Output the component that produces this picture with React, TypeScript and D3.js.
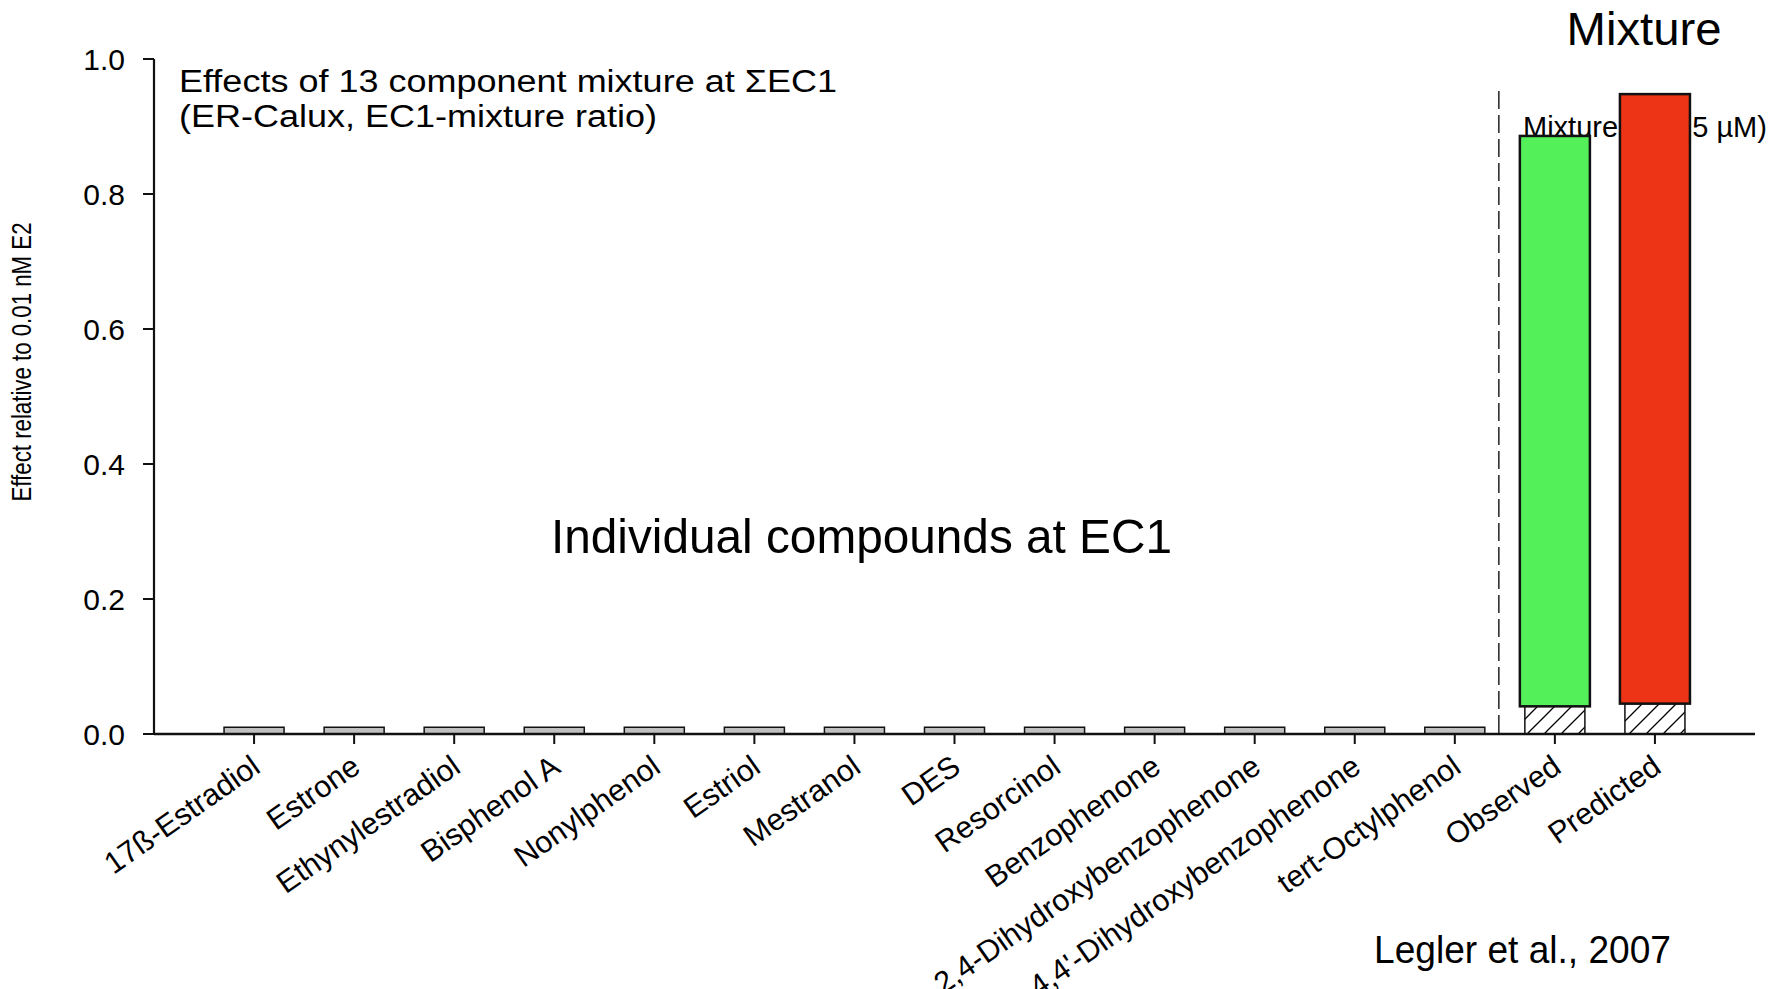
import React from "react";
import { scaleLinear, scalePoint, format } from "d3";

// values
const compounds = [
  "17ß-Estradiol",
  "Estrone",
  "Ethynylestradiol",
  "Bisphenol A",
  "Nonylphenol",
  "Estriol",
  "Mestranol",
  "DES",
  "Resorcinol",
  "Benzophenone",
  "2,4-Dihydroxybenzophenone",
  "4,4'-Dihydroxybenzophenone",
  "tert-Octylphenol",
];
const compoundEffects = [0.01, 0.01, 0.01, 0.01, 0.01, 0.01, 0.01, 0.01, 0.01, 0.01, 0.01, 0.01, 0.01];

const mixtureLabels = ["Observed", "Predicted"];
const mixtureEffects = [0.886, 0.948];
const mixtureHatched = [0.041, 0.045];
const mixtureColors = ["#54f05a", "#ee3416"];

const yTicks = [0, 0.2, 0.4, 0.6, 0.8, 1.0];

const W = 1785;
const H = 989;
const left = 154;
const right = 1755;
const top = 59;
const base = 734;
const font = "'Liberation Sans', Arial, Helvetica, sans-serif";

const y = scaleLinear().domain([0, 1]).range([base, top]);
const x = scalePoint<string>()
  .domain([...compounds, ...mixtureLabels])
  .range([left, right])
  .padding(1);
const step = x.step();
const fmt = format(".1f");

export default function App() {
  const dashX = (x(compounds[compounds.length - 1])! + x(mixtureLabels[0])!) / 2 - 6;
  return (
    <svg
      width={W}
      height={H}
      style={{ position: "absolute", left: 0, top: 0, background: "#fff" }}
      fontFamily={font}
    >
      <defs>
        <pattern id="hatch" patternUnits="userSpaceOnUse" width={17} height={17}>
          <path d="M-4,4 L4,-4 M0,17 L17,0 M13,21 L21,13" stroke="#000" strokeWidth={1.3} />
        </pattern>
      </defs>

      {/* annotations */}
      <text x={179} y={92} fontSize={31} textLength={658} lengthAdjust="spacingAndGlyphs">
        Effects of 13 component mixture at ΣEC1
      </text>
      <text x={179} y={127} fontSize={31} textLength={478} lengthAdjust="spacingAndGlyphs">
        (ER-Calux, EC1-mixture ratio)
      </text>
      <text x={551} y={553} fontSize={49} textLength={621} lengthAdjust="spacingAndGlyphs">
        Individual compounds at EC1
      </text>
      <text x={1644} y={45} fontSize={47} textAnchor="middle" textLength={155} lengthAdjust="spacingAndGlyphs">
        Mixture
      </text>
      {/* partly hidden behind the predicted bar, as in the source */}
      <text x={1523} y={137} fontSize={29}>
        Mixture (0.125 µM)
      </text>
      <text x={1374} y={963} fontSize={39} textLength={297} lengthAdjust="spacingAndGlyphs">
        Legler et al., 2007
      </text>

      {/* dashed separator */}
      <line x1={dashX} x2={dashX} y1={91} y2={base} stroke="#222" strokeWidth={1.5} strokeDasharray="18,6" />

      {/* individual compounds */}
      {compounds.map((c, i) => (
        <rect
          key={c}
          x={x(c)! - step * 0.3}
          y={y(compoundEffects[i])}
          width={step * 0.6}
          height={base - y(compoundEffects[i])}
          fill="#c0c0c0"
          stroke="#111"
          strokeWidth={1.5}
        />
      ))}

      {/* mixture bars */}
      {mixtureLabels.map((m, i) => (
        <g key={m}>
          <rect
            x={x(m)! - step * 0.3}
            y={y(mixtureHatched[i])}
            width={step * 0.6}
            height={base - y(mixtureHatched[i])}
            fill="#fff"
            stroke="none"
          />
          <rect
            x={x(m)! - step * 0.3}
            y={y(mixtureHatched[i])}
            width={step * 0.6}
            height={base - y(mixtureHatched[i])}
            fill="url(#hatch)"
            stroke="#111"
            strokeWidth={1.5}
          />
          <rect
            x={x(m)! - step * 0.35}
            y={y(mixtureEffects[i])}
            width={step * 0.7}
            height={y(mixtureHatched[i]) - y(mixtureEffects[i])}
            fill={mixtureColors[i]}
            stroke="#111"
            strokeWidth={2.5}
          />
        </g>
      ))}

      {/* y axis */}
      <line x1={left} x2={left} y1={top} y2={base} stroke="#111" strokeWidth={2.2} />
      {yTicks.map((t) => (
        <g key={t}>
          <line x1={left - 11} x2={left} y1={y(t)} y2={y(t)} stroke="#111" strokeWidth={2} />
          <text x={125} y={y(t)} dy="0.36em" fontSize={30} textAnchor="end">
            {fmt(t)}
          </text>
        </g>
      ))}
      <text
        transform={`translate(31,${362}) rotate(-90)`}
        fontSize={28}
        textAnchor="middle"
        textLength={279}
        lengthAdjust="spacingAndGlyphs"
      >
        Effect relative to 0.01 nM E2
      </text>

      {/* x axis */}
      <line x1={left} x2={right} y1={base} y2={base} stroke="#111" strokeWidth={2.5} />
      {[...compounds, ...mixtureLabels].map((c) => (
        <g key={c}>
          <line x1={x(c)} x2={x(c)} y1={base} y2={base + 10} stroke="#111" strokeWidth={2} />
          <text
            transform={`translate(${x(c)! + 8},${base + 37}) rotate(-35)`}
            fontSize={30.5}
            textAnchor="end"
          >
            {c}
          </text>
        </g>
      ))}
    </svg>
  );
}
